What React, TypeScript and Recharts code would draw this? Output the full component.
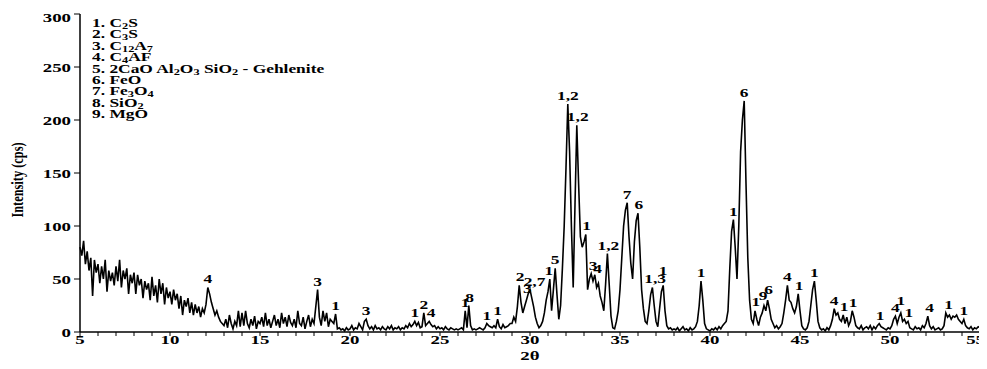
import React from 'react';
import {
  LineChart,
  Line,
  XAxis,
  YAxis,
  ReferenceDot,
} from 'recharts';

// intensity (cps) sampled every 0.1° of 2θ, one row per degree
const startAngle = 5;
const angleStep = 0.1;
const intensity: number[] = [
  80, 72, 86, 64, 76, 58, 70, 34, 68, 56, // 5
  64, 46, 62, 50, 68, 38, 58, 48, 56, 44, // 6
  62, 48, 68, 42, 58, 50, 60, 36, 54, 46, // 7
  56, 36, 54, 44, 50, 32, 48, 40, 46, 30, // 8
  52, 34, 44, 28, 50, 36, 46, 26, 42, 32, // 9
  38, 26, 40, 30, 36, 22, 34, 16, 30, 24, // 10
  32, 18, 28, 16, 26, 18, 24, 14, 22, 18, // 11
  26, 42, 36, 28, 22, 16, 20, 14, 10, 8, // 12
  6, 12, 4, 16, 8, 3, 10, 6, 20, 5, // 13
  18, 6, 20, 8, 4, 12, 6, 15, 3, 10, // 14
  8, 14, 5, 18, 6, 12, 4, 10, 16, 6, // 15
  12, 4, 18, 8, 14, 5, 16, 9, 6, 12, // 16
  4, 20, 8, 6, 14, 3, 10, 16, 5, 12, // 17
  8, 24, 40, 14, 6, 20, 10, 18, 5, 12, // 18
  10, 8, 17, 3, 4, 2, 3, 1, 4, 2, // 19
  3, 6, 2, 4, 3, 8, 5, 2, 10, 12, // 20
  6, 3, 5, 2, 6, 3, 4, 2, 5, 3, // 21
  2, 5, 3, 6, 2, 4, 3, 5, 2, 4, // 22
  3, 6, 4, 8, 5, 7, 10, 6, 9, 4, // 23
  5, 18, 6, 8, 10, 7, 5, 6, 3, 5, // 24
  3, 4, 2, 5, 3, 2, 4, 3, 2, 3, // 25
  2, 3, 4, 2, 20, 4, 25, 6, 2, 3, // 26
  2, 3, 4, 3, 2, 4, 8, 6, 5, 4, // 27
  6, 4, 12, 5, 3, 7, 4, 5, 6, 8, // 28
  8, 14, 10, 24, 44, 28, 18, 24, 30, 36, // 29
  40, 32, 24, 14, 8, 4, 6, 10, 18, 30, // 30
  38, 50, 20, 40, 60, 35, 12, 25, 60, 100, // 31
  155, 215, 170, 100, 42, 120, 195, 140, 90, 80, // 32
  85, 92, 40, 50, 55, 48, 54, 42, 46, 34, // 33
  28, 20, 45, 74, 45, 15, 4, 3, 10, 20, // 34
  40, 70, 100, 115, 122, 90, 65, 50, 85, 105, // 35
  112, 80, 40, 22, 10, 8, 20, 35, 42, 25, // 36
  10, 5, 22, 38, 44, 20, 6, 3, 4, 2, // 37
  3, 2, 4, 1, 3, 5, 2, 3, 1, 4, // 38
  2, 3, 5, 10, 25, 48, 30, 8, 3, 2, // 39
  1, 3, 2, 4, 2, 5, 3, 6, 8, 10, // 40
  20, 60, 95, 106, 80, 50, 100, 170, 200, 218, // 41
  140, 70, 30, 12, 8, 20, 12, 6, 14, 18, // 42
  25, 20, 30, 22, 12, 8, 4, 6, 3, 5, // 43
  8, 18, 30, 44, 30, 28, 22, 18, 24, 36, // 44
  20, 6, 3, 2, 4, 10, 25, 40, 48, 30, // 45
  10, 4, 2, 3, 1, 4, 2, 6, 12, 22, // 46
  16, 18, 12, 10, 16, 8, 14, 6, 10, 20, // 47
  14, 6, 4, 3, 6, 2, 4, 5, 3, 6, // 48
  2, 5, 3, 6, 8, 5, 4, 3, 2, 4, // 49
  3, 6, 12, 15, 8, 14, 18, 10, 12, 8, // 50
  10, 4, 3, 2, 5, 3, 4, 2, 6, 4, // 51
  8, 15, 6, 3, 5, 2, 3, 4, 2, 3, // 52
  6, 18, 14, 16, 12, 15, 14, 16, 12, 10, // 53
  8, 12, 6, 4, 3, 5, 2, 4, 3, 5, // 54
  4, // 55
];

// phase labels above the peaks: [2θ, intensity, text]
const peakLabels: [number, number, string][] = [
  [12.1, 42, '4'], [18.2, 40, '3'], [19.2, 17, '1'], [20.9, 12, '3'],
  [23.6, 10, '1'], [24.1, 18, '2'], [24.5, 10, '4'], [26.4, 20, '1'],
  [26.65, 25, '8'], [27.6, 8, '1'], [28.2, 12, '1'], [29.45, 44, '2'],
  [29.85, 33, '3'], [30.25, 40, '2,7'], [31.05, 50, '1'], [31.4, 60, '5'],
  [32.1, 215, '1,2'], [32.65, 195, '1,2'], [33.15, 92, '1'], [33.5, 55, '3'],
  [33.75, 52, '4'], [34.35, 74, '1,2'], [35.4, 122, '7'], [36.05, 112, '6'],
  [36.95, 42, '1,3'], [37.4, 50, '1'], [39.5, 48, '1'], [41.3, 106, '1'],
  [41.9, 218, '6'], [42.55, 21, '1'], [42.95, 26, '9'], [43.25, 32, '6'],
  [44.3, 44, '4'], [44.95, 36, '1'], [45.8, 48, '1'], [46.9, 22, '4'],
  [47.45, 16, '1'], [47.95, 20, '1'], [49.45, 8, '1'], [50.3, 15, '4'],
  [50.6, 22, '1'], [51.05, 10, '1'], [52.2, 15, '4'], [53.25, 18, '1'],
  [54.1, 12, '1'],
];

// legend rows: odd entries are subscripts
const phases: string[][] = [
  ['1. C', '2', 'S'],
  ['2. C', '3', 'S'],
  ['3. C', '12', 'A', '7'],
  ['4. C', '4', 'AF'],
  ['5. 2CaO Al', '2', 'O', '3', ' SiO', '2', ' - Gehlenite'],
  ['6. FeO'],
  ['7. Fe', '3', 'O', '4'],
  ['8. SiO', '2'],
  ['9. MgO'],
];

const xTicks = Array.from({ length: 51 }, (_, i) => 5 + i);
const yTicks = [0, 50, 100, 150, 200, 250, 300];

const data = intensity.map((v, i) => ({
  theta: Math.round((startAngle + i * angleStep) * 10) / 10,
  cps: v,
}));

const serif = '"Liberation Serif", "Times New Roman", serif';
const stretch = 1.45;

function XTick({ x, y, payload }: any) {
  if (payload.value % 5 !== 0) return null;
  const last = payload.value === 55;
  return (
    <text transform={`translate(${last ? x + 5 : x},${y + 6}) scale(${stretch},1)`}
      textAnchor={last ? 'end' : 'middle'}
      fontSize={13} fontWeight={700} fontFamily={serif} fill="#000">
      {payload.value}
    </text>
  );
}

function YTick({ x, y, payload }: any) {
  return (
    <text transform={`translate(${x - 1},${y + 4.5}) scale(${stretch},1)`} textAnchor="end"
      fontSize={13} fontWeight={700} fontFamily={serif} fill="#000">
      {payload.value}
    </text>
  );
}

function PhaseLine({ parts }: { parts: string[] }) {
  return (
    <div>
      {parts.map((p, i) =>
        i % 2 === 1 ? (
          <sub key={i} style={{ fontSize: 8.5, verticalAlign: '-2px', lineHeight: 0 }}>{p}</sub>
        ) : (
          <span key={i}>{p}</span>
        ),
      )}
    </div>
  );
}

export default function App() {
  return (
    <div style={{ position: 'relative', width: 979, height: 361 }}>
      <LineChart width={979} height={361} data={data} margin={{ top: 6, right: 7, left: 22, bottom: 7 }}
        style={{ overflow: 'visible' }}>
        <XAxis
          dataKey="theta"
          type="number"
          domain={[5, 55]}
          ticks={xTicks}
          interval={0}
          tick={<XTick />}
          tickSize={4}
          height={30}
          axisLine={{ stroke: '#000', strokeWidth: 1.5 }}
          tickLine={{ stroke: '#000' }}
        />
        <XAxis xAxisId="top" orientation="top" type="number" domain={[5, 55]} tick={false} tickLine={false} height={0} axisLine={{ stroke: '#000', strokeWidth: 1.5 }} />
        <YAxis
          type="number"
          domain={[0, 300]}
          ticks={yTicks}
          tick={<YTick />}
          tickSize={6}
          width={50}
          axisLine={{ stroke: '#000', strokeWidth: 1.5 }}
          tickLine={{ stroke: '#000' }}
        />
        <YAxis yAxisId="right" orientation="right" type="number" domain={[0, 300]} tick={false} tickLine={false} width={0} axisLine={{ stroke: '#000', strokeWidth: 1.5 }} />
        <Line
          type="linear"
          dataKey="cps"
          stroke="#000"
          strokeWidth={1.6}
          dot={false}
          isAnimationActive={false}
        />
        {peakLabels.map(([x, y, text], i) => (
          <ReferenceDot
            key={i}
            x={x}
            y={y}
            r={0}
            shape={(p: { cx?: number; cy?: number }) => (
              <text
                transform={`translate(${p.cx ?? 0},${(p.cy ?? 0) - 4}) scale(${stretch},1)`}
                textAnchor="middle"
                fontSize={12}
                fontWeight={700}
                fontFamily={serif}
                fill="#000"
              >
                {text}
              </text>
            )}
          />
        ))}
      </LineChart>
      <div
        style={{
          position: 'absolute',
          left: 84,
          top: 10,
          fontFamily: serif,
          fontWeight: 700,
          fontSize: 12,
          lineHeight: '11.4px',
          color: '#000',
          transform: `scaleX(${stretch})`,
          transformOrigin: 'left top',
          whiteSpace: 'nowrap',
        }}
      >
        {phases.map((parts, i) => (
          <PhaseLine key={i} parts={parts} />
        ))}
      </div>
      <div
        style={{
          position: 'absolute',
          left: 10,
          top: 172,
          fontFamily: serif,
          fontWeight: 700,
          fontSize: 13,
          color: '#000',
          whiteSpace: 'nowrap',
          transform: 'translate(-50%, -50%) rotate(-90deg) scale(0.95, 1.35)',
        }}
      >
        Intensity (cps)
      </div>
      <div
        style={{
          position: 'absolute',
          left: 522,
          top: 348,
          fontFamily: serif,
          fontWeight: 700,
          fontSize: 13,
          color: '#000',
          whiteSpace: 'nowrap',
          transform: `translate(-50%, -50%) scale(${stretch}, 1)`,
        }}
      >
        2θ
      </div>
    </div>
  );
}
